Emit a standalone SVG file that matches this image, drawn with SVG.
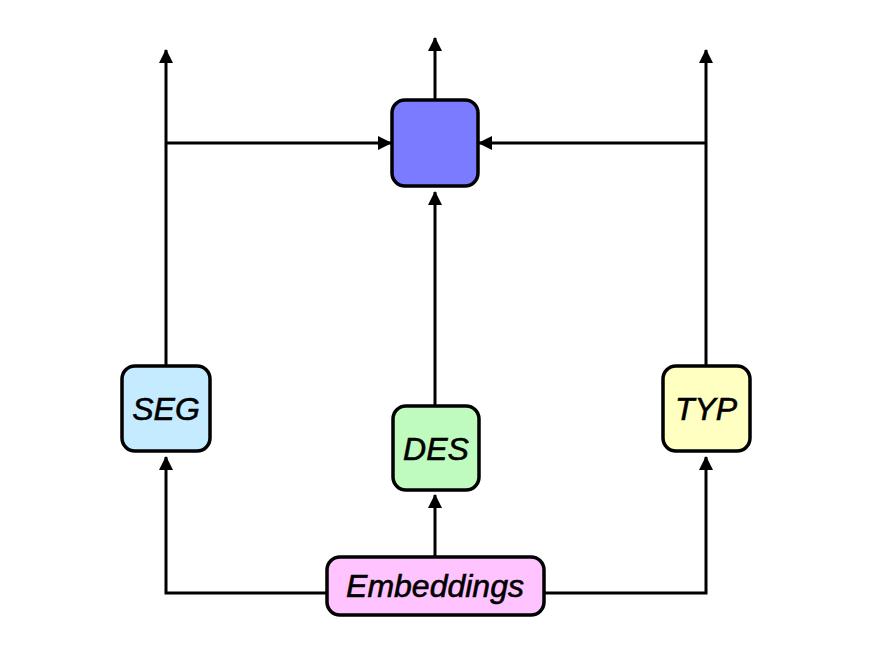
<svg xmlns="http://www.w3.org/2000/svg" width="872" height="654" viewBox="0 0 872 654">
<defs>
<marker id="ah" viewBox="0 0 14 14" refX="13" refY="7" markerWidth="14" markerHeight="14" markerUnits="userSpaceOnUse" orient="auto">
<path d="M0,0 L14,7 L0,14 Z" fill="#000"/>
</marker>
<style>
.box{stroke:#000;stroke-width:3.5}
.lbl{font-family:"Liberation Sans",Arial,sans-serif;font-style:italic;font-size:32px;text-anchor:middle;dominant-baseline:central;fill:#000;stroke:#000;stroke-width:0.6}
.c{fill:none;stroke:#000;stroke-width:3;marker-end:url(#ah)}
</style>
</defs>
<rect width="872" height="654" fill="#fff"/>
<g id="connectors">
<path class="c" d="M435,100 V38"/>
<path class="c" d="M166,365 V50"/>
<path class="c" d="M706,365 V50"/>
<path class="c" d="M166,143 H391"/>
<path class="c" d="M706,143 H479"/>
<path class="c" d="M435,405 V192"/>
<path class="c" d="M435,557 V495"/>
<path class="c" d="M327,593 H166 V457"/>
<path class="c" d="M544,593 H706 V457"/>
</g>
<g id="top"><rect class="box" x="392" y="100" width="86" height="86" rx="13" fill="#7B7BFF"/></g>
<g id="seg"><rect class="box" x="122" y="366" width="88" height="85" rx="13" fill="#C4EBFF"/><text class="lbl" x="166" y="409">SEG</text></g>
<g id="des"><rect class="box" x="393" y="406" width="86" height="84" rx="13" fill="#BFFBBF"/><text class="lbl" x="436" y="449">DES</text></g>
<g id="typ"><rect class="box" x="663" y="366" width="87" height="85" rx="13" fill="#FFFFC2"/><text class="lbl" x="706" y="409">TYP</text></g>
<g id="emb"><rect class="box" x="327" y="557" width="217" height="58" rx="13" fill="#FFC4FF"/><text class="lbl" x="435" y="586">Embeddings</text></g>
</svg>
